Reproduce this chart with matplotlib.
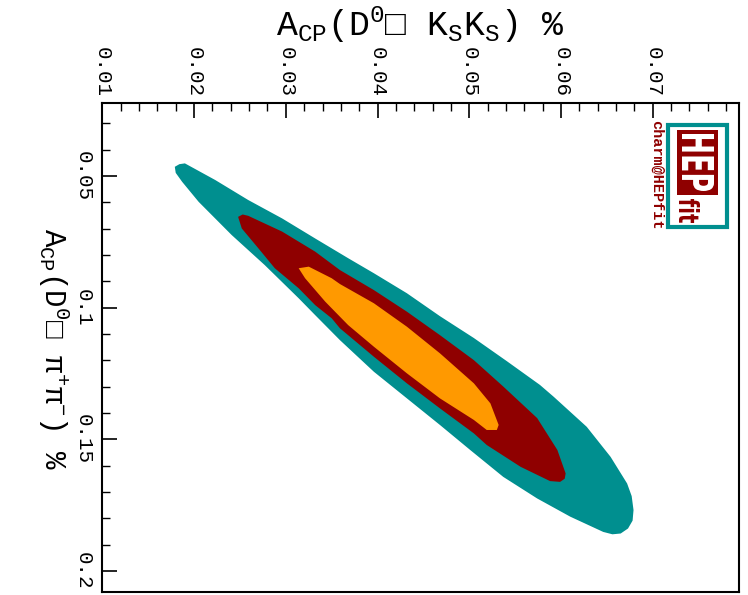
import matplotlib
matplotlib.use("Agg")
import matplotlib.pyplot as plt
from matplotlib.patches import Rectangle, PathPatch
from matplotlib.textpath import TextPath
from matplotlib.font_manager import FontProperties
from matplotlib.transforms import Affine2D
from matplotlib.ticker import MultipleLocator

plt.rcParams["font.family"] = ["Liberation Mono", "DejaVu Sans"]
plt.rcParams["mathtext.fontset"] = "custom"
plt.rcParams["mathtext.rm"] = "Liberation Mono"
plt.rcParams["mathtext.it"] = "Liberation Mono"

# contour boundaries (x = A_CP(KsKs), y = A_CP(pi pi))
outer_x = [0.0179, 0.0184, 0.0190, 0.0223, 0.0259, 0.0296, 0.0332, 0.0368, 0.0396,
           0.0432, 0.0468, 0.0505, 0.0541, 0.0577, 0.0592, 0.0628, 0.0654, 0.0672,
           0.0677, 0.0679, 0.0678, 0.0673, 0.0665, 0.0656, 0.0646, 0.0610, 0.0574,
           0.0537, 0.0501, 0.0468, 0.0432, 0.0396, 0.0359, 0.0332, 0.0314, 0.0277,
           0.0241, 0.0205, 0.0187, 0.0180]
outer_y = [0.0465, 0.0455, 0.0452, 0.0515, 0.0591, 0.0661, 0.0737, 0.0812, 0.0869,
           0.0945, 0.1032, 0.1115, 0.1203, 0.1293, 0.1338, 0.1452, 0.1566, 0.1667,
           0.1715, 0.1768, 0.1808, 0.1838, 0.1857, 0.1860, 0.1851, 0.1793, 0.1724,
           0.1642, 0.1540, 0.1445, 0.1344, 0.1243, 0.1123, 0.1028, 0.0964, 0.0838,
           0.0724, 0.0598, 0.0522, 0.0488]

mid_x = [0.0248, 0.0253, 0.0259, 0.0296, 0.0332, 0.0359, 0.0396, 0.0432, 0.0468,
         0.0505, 0.0537, 0.0574, 0.0596, 0.0605, 0.0604, 0.0599, 0.0588, 0.0556,
         0.0519, 0.0505, 0.0468, 0.0432, 0.0396, 0.0359, 0.0350, 0.0332, 0.0314,
         0.0288, 0.0270, 0.0252]
mid_y = [0.0655, 0.0646, 0.0651, 0.0711, 0.0787, 0.0857, 0.0933, 0.1015, 0.1104,
         0.1199, 0.1299, 0.1419, 0.1540, 0.1629, 0.1649, 0.1661, 0.1658, 0.1604,
         0.1521, 0.1477, 0.1382, 0.1287, 0.1186, 0.1078, 0.1040, 0.0990, 0.0926,
         0.0850, 0.0774, 0.0699]

inner_x = [0.0314, 0.0325, 0.0350, 0.0359, 0.0396, 0.0432, 0.0468, 0.0505, 0.0523,
           0.0532, 0.0530, 0.0519, 0.0505, 0.0468, 0.0432, 0.0396, 0.0368, 0.0359,
           0.0343, 0.0321]
inner_y = [0.0850, 0.0844, 0.0888, 0.0910, 0.0983, 0.1072, 0.1173, 0.1287, 0.1363,
           0.1445, 0.1464, 0.1464, 0.1426, 0.1344, 0.1249, 0.1148, 0.1066, 0.1034,
           0.0977, 0.0888]

xticks = [0.01, 0.02, 0.03, 0.04, 0.05, 0.06, 0.07]
xlabels = ["0.01", "0.02", "0.03", "0.04", "0.05", "0.06", "0.07"]
yticks = [0.05, 0.1, 0.15, 0.2]
ylabels = ["0.05", "0.1", "0.15", "0.2"]

teal = "#008f8f"
darkred = "#8f0000"
orange = "#ff9900"

fig = plt.figure(figsize=(7.48, 5.95), dpi=100)
ax = fig.add_axes([0.1368, 0.0055, 0.8512, 0.8213])

ax.fill(outer_x, outer_y, color=teal, lw=0)
ax.fill(mid_x, mid_y, color=darkred, lw=0)
ax.fill(inner_x, inner_y, color=orange, lw=0)

ax.set_xlim(0.01, 0.0794)
ax.set_ylim(0.2078, 0.0223)

ax.set_xticks(xticks, xlabels, rotation=-90, fontsize=15)
ax.set_yticks(yticks, ylabels, rotation=-90, va="center", fontsize=15)
ax.xaxis.set_minor_locator(MultipleLocator(0.002))
ax.yaxis.set_minor_locator(MultipleLocator(0.01))
ax.tick_params(which="both", direction="in", top=True, bottom=False,
               left=True, right=False, labeltop=True, labelbottom=False)
ax.tick_params(which="major", length=11, width=1.2)
ax.tick_params(which="minor", length=6, width=1)
ax.tick_params(axis="x", pad=4)
ax.tick_params(axis="y", pad=7)
for s in ax.spines.values():
    s.set_linewidth(1.5)

ax.xaxis.set_label_position("top")
ax.set_xlabel(r"A$_{\mathrm{CP}}$(D$^{0}$□ K$_{\mathrm{S}}$K$_{\mathrm{S}}$) %",
              fontsize=25, va="center")
ax.xaxis.set_label_coords(0.5, 1.16)
ax.set_ylabel(r"A$_{\mathrm{CP}}$(D$^{0}$□ π$^{+}$π$^{-}$) %",
              fontsize=21, rotation=-90, va="center", ha="center")
ax.yaxis.set_label_coords(-0.076, 0.497)


# HEPfit logo (pixel positions, rotated like the rest of the picture)
def logo_word(word, x_left, y_top, length, height, color):
    tp = TextPath((0, 0), word, size=1,
                  prop=FontProperties(family="DejaVu Sans", weight="bold"))
    bb = tp.get_extents()
    tr = (Affine2D().translate(-bb.x0, -bb.y0)
          .scale(length / bb.width, height / bb.height)
          .rotate_deg(-90)
          .translate(x_left, 595 - y_top))
    fig.patches.append(PathPatch(tr.transform_path(tp), facecolor=color,
                                 edgecolor="none", zorder=7))


ax.add_patch(Rectangle((0.889, 0.747), 0.092, 0.208, transform=ax.transAxes,
                       facecolor="white", edgecolor=teal, lw=3, zorder=5))
ax.add_patch(Rectangle((0.902, 0.812), 0.065, 0.133, transform=ax.transAxes,
                       facecolor=darkred, edgecolor="none", zorder=6))
logo_word("HEP", 682, 134, 57, 32, "white")
logo_word("fit", 679, 199, 24, 21, darkred)
ax.text(0.870, 0.853, "charm@HEPfit", transform=ax.transAxes, rotation=-90,
        color=darkred, fontsize=11, fontweight="bold", ha="center", va="center")

fig.savefig("out.png", dpi=100)
